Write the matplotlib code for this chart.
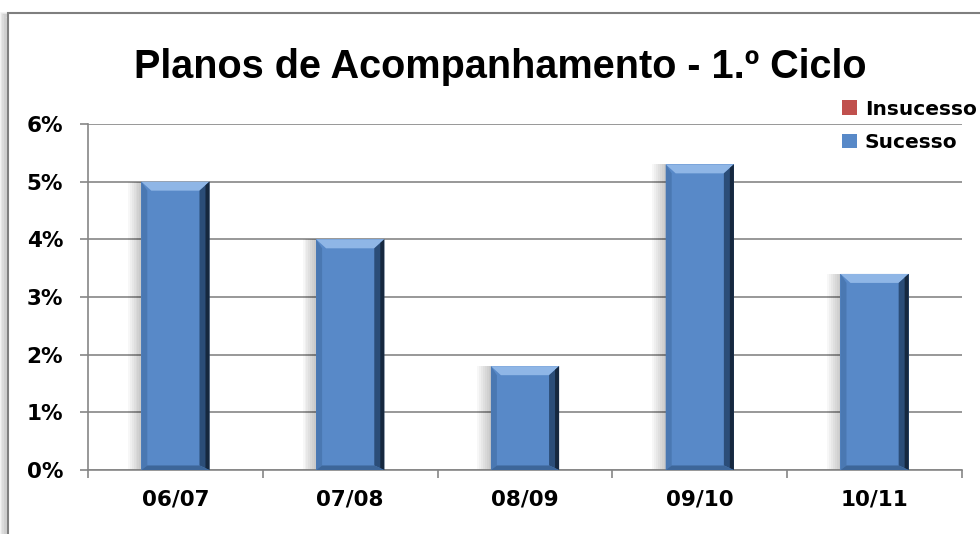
import numpy as np
import matplotlib
matplotlib.use('Agg')
import matplotlib.pyplot as plt
from matplotlib.patches import Polygon, Rectangle

# data
anos = ['06/07', '07/08', '08/09', '09/10', '10/11']
sucesso = [5.0, 4.0, 1.8, 5.3, 3.4]
insucesso = [0, 0, 0, 0, 0]
yticks = [0, 1, 2, 3, 4, 5, 6]

azul = '#5889C8'
vermelho = '#C0504D'
cinza = '#868686'

fig = plt.figure(figsize=(9.8, 5.34), dpi=100)

# chart frame with a soft shadow (behind the axes)
for i in range(8):
    fig.patches.append(Rectangle((0.007 - i * 0.0008, -0.01), 1.1, 0.975 + i * 0.0015,
                                 transform=fig.transFigure, fill=False, zorder=-2,
                                 edgecolor='black', alpha=0.05, linewidth=2))
fig.patches.append(Rectangle((0.008, -0.01), 1.1, 0.985, transform=fig.transFigure, zorder=-1,
                             facecolor='white', edgecolor='#7F7F7F', linewidth=1.5))

ax = fig.add_axes([0.0898, 0.1199, 0.8918, 0.6479])
ax.patch.set_alpha(0)
x = np.arange(len(anos))
w = 0.39

# bar shadows
for k in range(7):
    ax.bar(x - 0.011 * (k + 1), sucesso, w, color='black', alpha=0.03, zorder=2)

bars = ax.bar(x, sucesso, w, color=azul, zorder=3, label='Sucesso')
ax.bar(x, insucesso, w, bottom=sucesso, color=vermelho, zorder=3, label='Insucesso')

ax.set_xlim(-0.5, len(anos) - 0.5)
ax.set_ylim(0, 6)

# bevel effect computed from each bar
bx = 10 * 5 / 874.0
by = 9 * 6 / 346.0
for b in bars:
    x0, x1 = b.get_x(), b.get_x() + b.get_width()
    h = b.get_height()
    ax.add_patch(Polygon([(x0, h), (x1, h), (x1 - bx, h - by), (x0 + bx, h - by)],
                         closed=True, facecolor='#8FB6E6', edgecolor='none', zorder=4))
    ax.add_patch(Polygon([(x1, h), (x1, 0), (x1 - bx, by * 0.5), (x1 - bx, h - by)],
                         closed=True, facecolor='#2B4D78', edgecolor='none', zorder=4))
    ax.add_patch(Polygon([(x1, h), (x1, 0), (x1 - bx * 0.4, by * 0.2), (x1 - bx * 0.4, h - by * 0.4)],
                         closed=True, facecolor='#16283F', edgecolor='none', zorder=4))
    ax.add_patch(Polygon([(x0, h), (x0, 0), (x0 + bx * 0.6, by * 0.5), (x0 + bx * 0.6, h - by)],
                         closed=True, facecolor='#4A78B2', edgecolor='none', zorder=4))
    ax.add_patch(Polygon([(x0, 0), (x1, 0), (x1 - bx, by * 0.5), (x0 + bx * 0.6, by * 0.5)],
                         closed=True, facecolor='#3D6699', edgecolor='none', zorder=4))

ax.set_yticks(yticks)
ax.set_yticklabels([f'{t}%' for t in yticks])
ax.set_xticks(x)
ax.set_xticklabels(anos)
ax.set_xticks(np.arange(len(anos) + 1) - 0.5, minor=True)
ax.tick_params(axis='x', which='major', length=0, pad=14)
ax.tick_params(axis='x', which='minor', length=6, color=cinza, width=1.2)
ax.tick_params(axis='y', length=6, color=cinza, width=1.2, pad=12)
for lab in ax.get_xticklabels() + ax.get_yticklabels():
    lab.set_fontsize(15.5)
    lab.set_fontweight('bold')

ax.grid(axis='y', color=cinza, linewidth=1.2, zorder=0)
ax.set_axisbelow(True)
for s in ['top', 'right']:
    ax.spines[s].set_visible(False)
for s in ['left', 'bottom']:
    ax.spines[s].set_color(cinza)
    ax.spines[s].set_linewidth(1.2)

fig.text(0.51, 0.875, 'Planos de Acompanhamento - 1.º Ciclo', ha='center', va='center',
         fontsize=28.5, fontweight='bold', family='Liberation Sans')

handles, labels = ax.get_legend_handles_labels()
leg = fig.legend(handles[::-1], labels[::-1], loc='upper left', bbox_to_anchor=(0.859, 0.813),
                 frameon=False, prop={'size': 14.5, 'weight': 'bold'},
                 handlelength=0.75, handleheight=0.75, handletextpad=0.4, labelspacing=0.7,
                 borderpad=0, borderaxespad=0)

fig.savefig('out.png', dpi=100)
